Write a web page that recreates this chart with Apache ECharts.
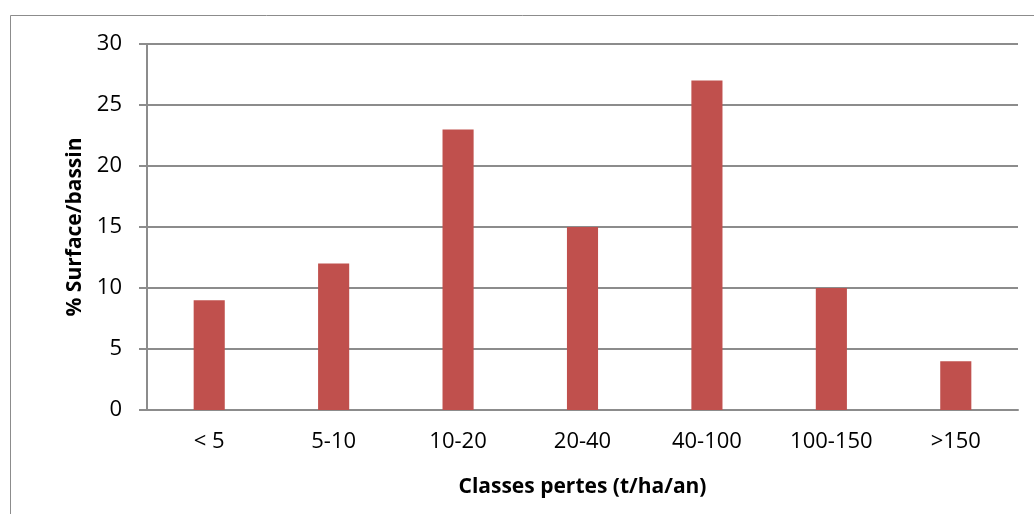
<!DOCTYPE html>
<html>
<head>
<meta charset="utf-8">
<script src="https://cdn.jsdelivr.net/npm/echarts@6/dist/echarts.min.js"></script>
<style>
  html, body { margin: 0; padding: 0; background: #fff; }
  #chart { width: 1034px; height: 514px; }
</style>
</head>
<body>
<div id="chart"></div>
<script>
// Erosion loss classes and share of basin surface in each class
const categories = ['< 5', '5-10', '10-20', '20-40', '40-100', '100-150', '>150'];
const surfacePct = [9, 12, 23, 15, 27, 10, 4];
const yTicks = { min: 0, max: 30, interval: 5 };

const font = '"Open Sans", "Liberation Sans", sans-serif';
const chart = echarts.init(document.getElementById('chart'), null, { renderer: 'canvas' });

chart.setOption({
  animation: false,
  backgroundColor: '#fff',
  graphic: [{
    type: 'rect',
    shape: { x: 10.5, y: 15.5, width: 1100, height: 600 },
    style: { fill: 'none', stroke: '#8c8c8c', lineWidth: 1 },
    silent: true
  }],
  grid: { left: 147, right: 16, top: 44, bottom: 104, containLabel: false },
  xAxis: {
    type: 'category',
    data: categories,
    name: 'Classes pertes (t/ha/an)',
    nameLocation: 'middle',
    nameGap: 67,
    nameTextStyle: { fontFamily: font, fontSize: 21, fontWeight: 'bold', color: '#000' },
    axisLine: { lineStyle: { color: '#8c8c8c', width: 2 } },
    axisTick: { show: false },
    axisLabel: { fontFamily: font, fontSize: 22, color: '#000', margin: 21 }
  },
  yAxis: {
    type: 'value',
    min: yTicks.min, max: yTicks.max, interval: yTicks.interval,
    name: '% Surface/bassin',
    nameLocation: 'middle',
    nameGap: 61,
    nameRotate: 90,
    nameTextStyle: { fontFamily: font, fontSize: 21, fontWeight: 'bold', color: '#000' },
    axisLine: { show: true, lineStyle: { color: '#8c8c8c', width: 2 } },
    axisTick: { show: true, inside: false, length: 8, lineStyle: { color: '#8c8c8c', width: 2 } },
    axisLabel: { fontFamily: font, fontSize: 22, color: '#000', margin: 25 },
    splitLine: { show: true, lineStyle: { color: '#8c8c8c', width: 2 } }
  },
  series: [{
    type: 'bar',
    data: surfacePct,
    barWidth: '25%',
    itemStyle: { color: '#C0504D' }
  }]
});
</script>
</body>
</html>
